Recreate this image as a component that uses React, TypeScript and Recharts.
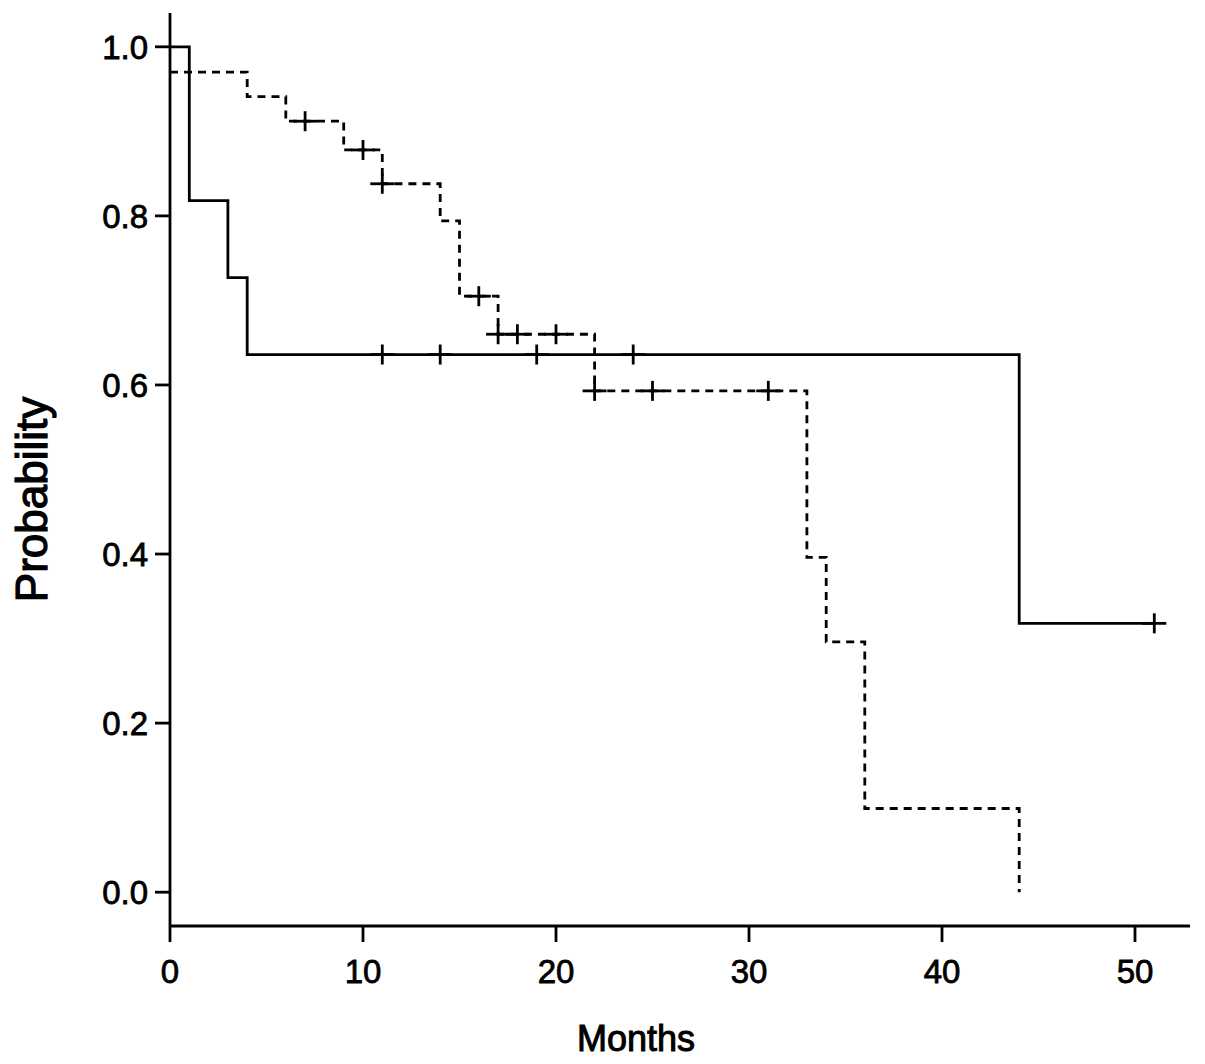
import React from 'react';
import { ComposedChart, Line, Scatter, XAxis, YAxis } from 'recharts';

// Solid curve (group A): step survival estimates
const solidSteps = [
  { t: 0, s: 1.0 },
  { t: 1, s: 0.818 },
  { t: 3, s: 0.727 },
  { t: 4, s: 0.636 },
  { t: 44, s: 0.318 },
  { t: 51, s: 0.318 },
];
// Solid curve censor marks
const solidCensored = [
  { t: 11, s: 0.636 },
  { t: 14, s: 0.636 },
  { t: 19, s: 0.636 },
  { t: 24, s: 0.636 },
  { t: 51, s: 0.318 },
];

// Dashed curve (group B)
const dashedSteps = [
  { t: 0, s: 0.97 },
  { t: 4, s: 0.941 },
  { t: 6, s: 0.912 },
  { t: 9, s: 0.878 },
  { t: 11, s: 0.838 },
  { t: 14, s: 0.794 },
  { t: 15, s: 0.705 },
  { t: 17, s: 0.66 },
  { t: 22, s: 0.593 },
  { t: 33, s: 0.396 },
  { t: 34, s: 0.296 },
  { t: 36, s: 0.099 },
  { t: 44, s: 0.0 },
];
const dashedCensored = [
  { t: 7, s: 0.912 },
  { t: 10, s: 0.878 },
  { t: 11, s: 0.838 },
  { t: 16, s: 0.705 },
  { t: 17, s: 0.66 },
  { t: 18, s: 0.66 },
  { t: 20, s: 0.66 },
  { t: 22, s: 0.593 },
  { t: 25, s: 0.593 },
  { t: 31, s: 0.593 },
];

const xTicks = [0, 10, 20, 30, 40, 50];
const yTicks = [0, 0.2, 0.4, 0.6, 0.8, 1.0];

const FONT = '"Liberation Sans", Arial, sans-serif';
const SW = 2.8;

const Plus = (props: any) => {
  const { cx, cy } = props;
  if (cx == null || cy == null) return null;
  return (
    <g>
      <line x1={cx - 12} x2={cx + 12} y1={cy} y2={cy} stroke="#000" strokeWidth={SW} />
      <line x1={cx} x2={cx} y1={cy - 10} y2={cy + 10} stroke="#000" strokeWidth={SW} />
    </g>
  );
};

const XLabel = (props: any) => {
  const vb = props.viewBox || {};
  const x = vb.x + vb.width / 2 - 44;
  const y = vb.y + 125;
  return (
    <text
      x={x}
      y={y}
      textAnchor="middle"
      fontFamily={FONT}
      fontSize={36}
      fill="#000"
      stroke="#000"
      strokeWidth={1}
    >
      Months
    </text>
  );
};

const YLabel = (props: any) => {
  const vb = props.viewBox || {};
  const cx = vb.x + 39;
  const cy = vb.y + vb.height / 2 + 30;
  return (
    <text
      x={cx}
      y={cy}
      textAnchor="middle"
      fontFamily={FONT}
      fontSize={44}
      fill="#000"
      stroke="#000"
      strokeWidth={1.2}
      transform={`rotate(-90 ${cx} ${cy})`}
    >
      Probability
    </text>
  );
};

const tickStyle = {
  fill: '#000',
  fontSize: 33,
  fontFamily: FONT,
  stroke: '#000',
  strokeWidth: 0.8,
};

export default function App() {
  return (
    <ComposedChart
      width={1197}
      height={1056}
      margin={{ top: 5, right: 15, bottom: 0, left: 0 }}
      style={{ background: '#fff' }}
    >
      <XAxis
        dataKey="t"
        type="number"
        domain={[0, 52.85]}
        ticks={xTicks}
        allowDataOverflow
        height={138}
        tickSize={16}
        tickMargin={18}
        axisLine={{ stroke: '#000', strokeWidth: SW }}
        tickLine={{ stroke: '#000', strokeWidth: SW }}
        tick={tickStyle}
        label={<XLabel />}
      />
      <YAxis
        dataKey="s"
        type="number"
        domain={[-0.04, 1.04]}
        ticks={yTicks}
        allowDataOverflow
        width={162}
        tickSize={15}
        tickMargin={7}
        tickFormatter={(v: number) => v.toFixed(1)}
        axisLine={{ stroke: '#000', strokeWidth: SW }}
        tickLine={{ stroke: '#000', strokeWidth: SW }}
        tick={tickStyle}
        label={<YLabel />}
      />
      <Line
        data={dashedSteps}
        dataKey="s"
        type="stepAfter"
        stroke="#000"
        strokeWidth={SW}
        strokeDasharray="8 6"
        dot={false}
        activeDot={false}
        isAnimationActive={false}
      />
      <Line
        data={solidSteps}
        dataKey="s"
        type="stepAfter"
        stroke="#000"
        strokeWidth={SW}
        dot={false}
        activeDot={false}
        isAnimationActive={false}
      />
      <Scatter data={dashedCensored} dataKey="s" shape={<Plus />} isAnimationActive={false} />
      <Scatter data={solidCensored} dataKey="s" shape={<Plus />} isAnimationActive={false} />
    </ComposedChart>
  );
}
